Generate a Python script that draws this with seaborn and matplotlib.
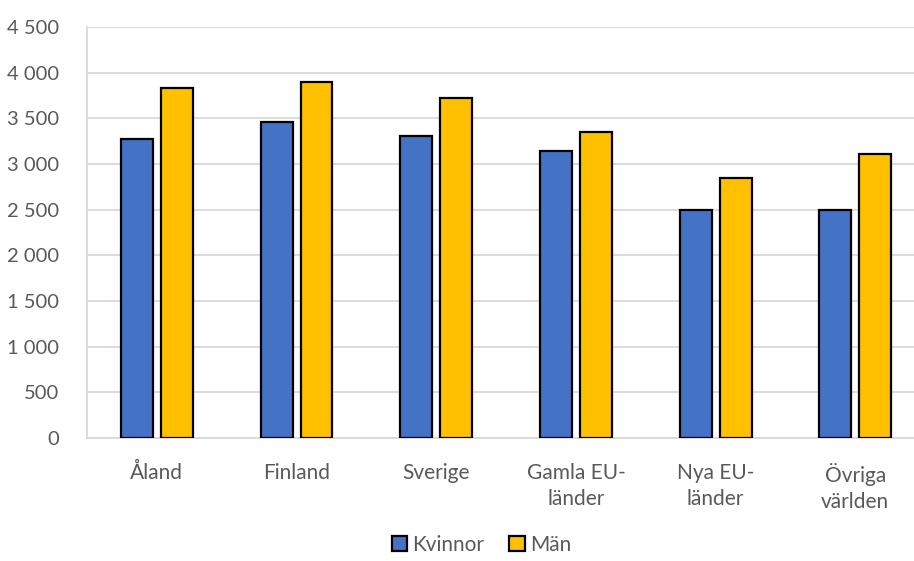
import pandas as pd
import matplotlib.pyplot as plt
import seaborn as sns
from matplotlib.ticker import FuncFormatter, MultipleLocator

regions = ["Åland", "Finland", "Sverige", "Gamla EU-\nländer", "Nya EU-\nländer", "Övriga\nvärlden"]
kvinnor = [3276, 3459, 3308, 3144, 2494, 2500]
man = [3832, 3897, 3725, 3352, 2851, 3108]
series = ["Kvinnor", "Män"]
colors = ["#4472C4", "#FFC000"]

data = pd.DataFrame({
    "region": regions * 2,
    "kon": [series[0]] * len(regions) + [series[1]] * len(regions),
    "lon": kvinnor + man,
})

sns.set_style("white")
plt.rcParams["font.family"] = ["Lato", "DejaVu Sans"]

fig = plt.figure(figsize=(9.14, 5.61), dpi=100)
ax = fig.add_axes([87 / 914, 123 / 561, (914 - 87) / 914, (534 - 123) / 561])

sns.barplot(data=data, x="region", y="lon", hue="kon", palette=colors,
            saturation=1, width=0.571, gap=0.2, edgecolor="black", linewidth=1.6,
            ax=ax, zorder=3)

ax.set_ylim(0, 4500)
ax.set_xlim(-0.5, 5.42)
ax.yaxis.set_major_locator(MultipleLocator(500))
ax.yaxis.set_major_formatter(FuncFormatter(lambda v, p: f"{int(v):,}".replace(",", " ")))
ax.grid(axis="y", color="#d9d9d9", linewidth=1.3, zorder=0)
ax.set_xlabel("")
ax.set_ylabel("")

for side in ["top", "right"]:
    ax.spines[side].set_visible(False)
for side in ["left", "bottom"]:
    ax.spines[side].set_color("#d9d9d9")
    ax.spines[side].set_linewidth(1.3)

ax.tick_params(axis="both", length=0, labelcolor="#595959")
ax.tick_params(axis="y", pad=20, labelsize=14.5)
ax.tick_params(axis="x", pad=18, labelsize=15)
for lbl in ax.get_xticklabels():
    lbl.set_linespacing(1.35)

ax.legend(loc="upper center", bbox_to_anchor=(0.477, -0.205), ncol=2, frameon=False,
          fontsize=15, handlelength=0.75, handleheight=0.75, handletextpad=0.25,
          columnspacing=1.2, labelcolor="#595959", borderaxespad=0.2)

fig.savefig("out.png", dpi=100)
